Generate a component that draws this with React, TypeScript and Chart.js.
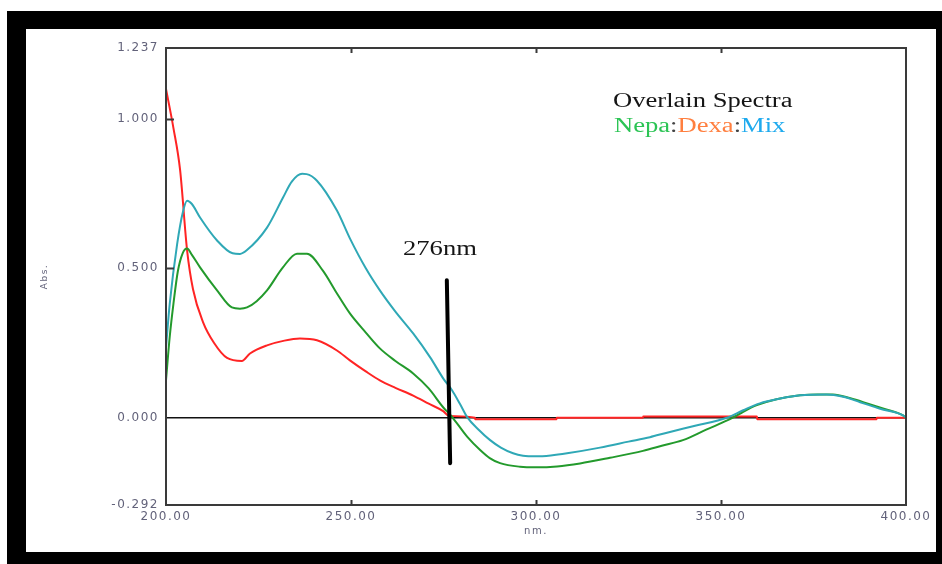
import React, { useEffect, useRef } from "react";
import { Chart, registerables } from "chart.js";

Chart.register(...registerables);

// ---- Data ----
const NEPA_WL = [200, 201, 202, 203.2, 204.5, 205.7, 207, 209.2, 213.8, 217.8, 220, 221.9, 224.5, 227.3, 231.6, 235.4, 238.1, 242.4, 246, 249.7, 254, 257.8, 262, 266.8, 271, 274.9, 276.8, 278.6, 281.5, 284.9, 287.5, 290.3, 295.7, 300, 305.7, 311.9, 320, 328.9, 334, 339.7, 346, 353.2, 356, 359.7, 365, 371.4, 376, 380.3, 385, 389.5, 394, 399.2, 400];
const NEPA = [0.125, 0.27, 0.38, 0.49, 0.55, 0.566, 0.545, 0.503, 0.426, 0.369, 0.365, 0.369, 0.39, 0.426, 0.503, 0.549, 0.549, 0.492, 0.42, 0.349, 0.285, 0.232, 0.19, 0.148, 0.098, 0.035, 0.01, -0.018, -0.065, -0.108, -0.135, -0.152, -0.164, -0.166, -0.163, -0.153, -0.134, -0.111, -0.094, -0.075, -0.04, 0.0, 0.02, 0.042, 0.062, 0.075, 0.078, 0.078, 0.065, 0.048, 0.03, 0.008, 0.0];

const DEXA_WL = [200, 202, 203.8, 205.7, 207.3, 210, 213, 216.5, 220.5, 222.7, 227.3, 232, 236.2, 240.8, 246.2, 249.7, 254, 257.8, 262, 266.8, 271, 274.9, 276.5, 283.5, 283.6, 305.5, 305.6, 328.9, 329, 359.7, 359.8, 392, 392.1, 400];
const DEXA = [1.1, 0.97, 0.83, 0.56, 0.43, 0.32, 0.25, 0.2, 0.19, 0.215, 0.242, 0.258, 0.265, 0.259, 0.225, 0.192, 0.155, 0.125, 0.1, 0.074, 0.047, 0.022, 0.006, 0, -0.005, -0.005, 0, 0, 0.004, 0.004, -0.005, -0.005, 0, 0];

const MIX_WL = [200, 201, 203, 204.6, 205.7, 207, 209.2, 213.8, 218, 220, 221.8, 227.3, 231.6, 234, 236.8, 238, 240.8, 246.2, 249.7, 254, 257.8, 262, 266.8, 271.4, 275, 277.3, 279.5, 281.4, 284.5, 287.6, 290.5, 293.8, 296.5, 300, 304, 308.4, 317.3, 325, 330.8, 335.4, 343, 351.6, 356, 360.5, 366, 371.4, 378.6, 383, 387.6, 393, 399.2, 400];
const MIX = [0.235, 0.38, 0.58, 0.69, 0.726, 0.715, 0.67, 0.593, 0.55, 0.548, 0.56, 0.636, 0.736, 0.79, 0.816, 0.815, 0.793, 0.693, 0.6, 0.5, 0.426, 0.355, 0.282, 0.202, 0.13, 0.092, 0.045, 0.002, -0.04, -0.075, -0.1, -0.119, -0.127, -0.129, -0.126, -0.119, -0.1, -0.08, -0.065, -0.05, -0.027, 0.0, 0.025, 0.048, 0.064, 0.075, 0.078, 0.07, 0.052, 0.03, 0.008, 0.0];

const MARKER_WL = [275.9, 276.8];
const MARKER = [0.46, -0.152];

const Y_TICKS = [-0.292, 0, 0.5, 1.0, 1.237];
const X_TICKS = [200, 250, 300, 350, 400];
const Y_INNER_TICKS = [0.5, 1.0];
const X_INNER_TICKS = [250, 300, 350];

const pts = (xs: number[], ys: number[]) => ys.map((y, i) => ({ x: xs[i], y }));

const STRETCH = 1.33;

const decor = {
  id: "decor",
  beforeDraw(chart: any) {
    chart.ctx.letterSpacing = "1.5px";
  },
  beforeDatasetsDraw(chart: any) {
    const { ctx, chartArea: a, scales } = chart;
    const y0 = scales.y.getPixelForValue(0);
    ctx.save();
    ctx.letterSpacing = "0px";
    ctx.strokeStyle = "#111";
    ctx.lineWidth = 1.6;
    ctx.beginPath();
    ctx.moveTo(a.left, y0);
    ctx.lineTo(a.right, y0);
    ctx.stroke();
    ctx.restore();
  },
  afterDatasetsDraw(chart: any) {
    const { ctx, chartArea: a, scales } = chart;
    ctx.save();
    ctx.letterSpacing = "0px";
    ctx.strokeStyle = "#3a3a3a";
    ctx.lineWidth = 2;
    ctx.strokeRect(a.left, a.top, a.right - a.left, a.bottom - a.top);
    ctx.beginPath();
    Y_INNER_TICKS.forEach((v) => {
      const py = Math.round(scales.y.getPixelForValue(v)) + 0.5;
      ctx.moveTo(a.left, py);
      ctx.lineTo(a.left + 8, py);
    });
    X_INNER_TICKS.forEach((v) => {
      const px = Math.round(scales.x.getPixelForValue(v)) + 0.5;
      ctx.moveTo(px, a.top);
      ctx.lineTo(px, a.top + 5);
      ctx.moveTo(px, a.bottom);
      ctx.lineTo(px, a.bottom - 5);
    });
    ctx.stroke();
    ctx.restore();
  },
  afterDraw(chart: any) {
    const ctx = chart.ctx;
    ctx.letterSpacing = "0px";
    const put = (parts: [string, string][], x: number, y: number) => {
      ctx.save();
      ctx.font = "20px 'Liberation Serif', 'Times New Roman', serif";
      ctx.textBaseline = "alphabetic";
      ctx.textAlign = "left";
      ctx.translate(x, y);
      ctx.scale(STRETCH, 1);
      let cx = 0;
      parts.forEach(([t, c]) => {
        ctx.fillStyle = c;
        ctx.fillText(t, cx, 0);
        cx += ctx.measureText(t).width;
      });
      ctx.restore();
    };
    put([["Overlain Spectra", "#151515"]], 613, 107);
    put(
      [
        ["Nepa", "#2cc455"],
        [":", "#444"],
        ["Dexa", "#ff7f3f"],
        [":", "#444"],
        ["Mix", "#1eaaee"],
      ],
      614,
      132
    );
    put([["276nm", "#151515"]], 403, 255);
  },
};

export default function App() {
  const ref = useRef<HTMLCanvasElement | null>(null);
  useEffect(() => {
    if (!ref.current) return;
    const tickFont = { family: "'DejaVu Sans', sans-serif", size: 12 };
    const chart = new Chart(ref.current, {
      type: "line",
      data: {
        datasets: [
          {
            label: "276nm",
            data: pts(MARKER_WL, MARKER),
            borderColor: "#000",
            borderWidth: 4,
            pointRadius: 0,
            borderCapStyle: "round",
          },
          {
            label: "Mix",
            data: pts(MIX_WL, MIX),
            borderColor: "#2fa8b6",
            borderWidth: 2,
            pointRadius: 0,
            cubicInterpolationMode: "monotone",
          },
          {
            label: "Nepa",
            data: pts(NEPA_WL, NEPA),
            borderColor: "#239a2c",
            borderWidth: 2,
            pointRadius: 0,
            cubicInterpolationMode: "monotone",
          },
          {
            label: "Dexa",
            data: pts(DEXA_WL, DEXA),
            borderColor: "#ff2424",
            borderWidth: 2,
            pointRadius: 0,
            cubicInterpolationMode: "monotone",
          },
        ],
      },
      options: {
        animation: false,
        responsive: false,
        devicePixelRatio: 1,
        layout: { padding: { left: 36, right: 36, top: 48, bottom: 19 } },
        plugins: { legend: { display: false }, tooltip: { enabled: false } },
        scales: {
          x: {
            type: "linear",
            min: 200,
            max: 400,
            grid: { display: false, drawTicks: false },
            border: { display: false },
            afterBuildTicks: (s: any) => {
              s.ticks = X_TICKS.map((v) => ({ value: v }));
            },
            afterFit: (s: any) => {
              s.height = 40;
            },
            ticks: {
              autoSkip: false,
              maxRotation: 0,
              padding: 5,
              color: "#62627a",
              font: tickFont,
              callback: (v: any) => Number(v).toFixed(2),
            },
            title: {
              display: true,
              text: "nm.",
              color: "#62627a",
              font: { family: "'DejaVu Sans', sans-serif", size: 10 },
              padding: { top: 0, bottom: 8 },
            },
          },
          y: {
            type: "linear",
            min: -0.292,
            max: 1.237,
            grid: { display: false, drawTicks: false },
            border: { display: false },
            afterBuildTicks: (s: any) => {
              s.ticks = Y_TICKS.map((v) => ({ value: v }));
            },
            afterFit: (s: any) => {
              s.width = 130;
            },
            ticks: {
              autoSkip: false,
              padding: 7,
              color: "#62627a",
              font: tickFont,
              callback: (v: any) => Number(v).toFixed(3),
            },
            title: {
              display: true,
              text: "Abs.",
              color: "#62627a",
              font: { family: "'DejaVu Sans', sans-serif", size: 9 },
              padding: { top: 3, bottom: 0 },
            },
          },
        },
      },
      plugins: [decor],
    } as any);
    return () => chart.destroy();
  }, []);

  return (
    <div style={{ position: "fixed", left: 0, top: 0, width: 942, height: 564, background: "#fff", overflow: "hidden" }}>
      <div style={{ position: "absolute", left: 7, top: 11, width: 935, height: 553, background: "#000" }} />
      <div style={{ position: "absolute", left: 26, top: 29, width: 910, height: 523, background: "#fff" }} />
      <canvas ref={ref} width={942} height={564} style={{ position: "absolute", left: 0, top: 0, width: 942, height: 564 }} />
    </div>
  );
}
